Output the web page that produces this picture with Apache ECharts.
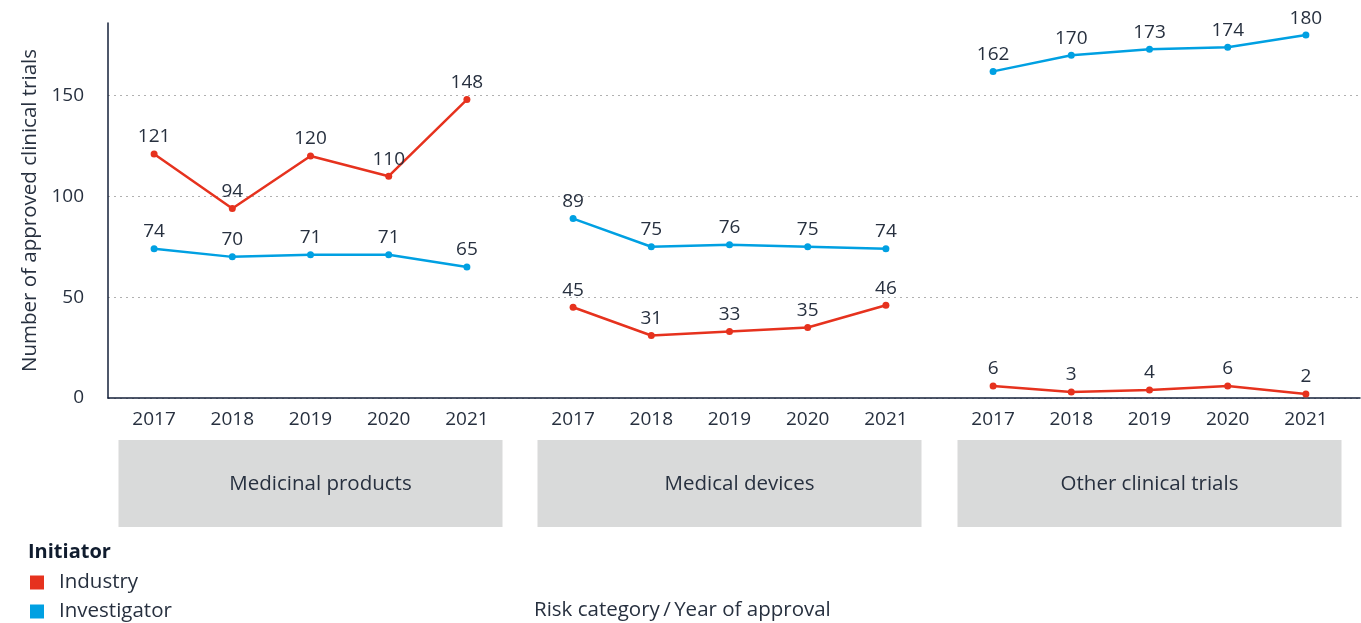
<!DOCTYPE html>
<html>
<head>
<meta charset="utf-8">
<script src="https://cdn.jsdelivr.net/npm/echarts@6/dist/echarts.min.js"></script>
<style>
  html, body { margin: 0; padding: 0; background: #fff; }
  #chart { width: 1361px; height: 623px; }
</style>
</head>
<body>
<div id="chart"></div>
<script>
// Approved clinical trials by risk category, year and initiator
const years = ['2017', '2018', '2019', '2020', '2021'];
const groups = ['Medicinal products', 'Medical devices', 'Other clinical trials'];
const industry = [
  [121, 94, 120, 110, 148],
  [45, 31, 33, 35, 46],
  [6, 3, 4, 6, 2]
];
const investigator = [
  [74, 70, 71, 71, 65],
  [89, 75, 76, 75, 74],
  [162, 170, 173, 174, 180]
];
const yTicks = [0, 50, 100, 150];
const seriesNames = ['Industry', 'Investigator'];

const RED = '#e6321e';
const BLUE = '#00a0e2';
const TEXT = '#27303f';
const FONT = '"Open Sans", "Noto Sans", sans-serif';
const FS = 19;      // numbers
const FT = 20.5;    // words

const TOP = 23, BOTTOM = 225, YMAX = 186;
const groupLeft = [115, 534, 954];
const groupWidth = 391;
// left inset of the caption inside each grey box
const boxInset = [20, 20, 0];

const grids = [{ left: 108, right: 1, top: TOP, bottom: BOTTOM }];
const xAxes = [{
  gridIndex: 0, type: 'value', min: 0, max: 1,
  axisLine: { show: true, lineStyle: { color: '#15213a', width: 1.5 } },
  axisTick: { show: false }, axisLabel: { show: false }, splitLine: { show: false }
}];
const yAxes = [{
  gridIndex: 0, type: 'value', min: 0, max: YMAX, interval: 50,
  name: 'Number of approved clinical trials',
  nameLocation: 'middle', nameGap: 65, nameRotate: 90,
  nameTextStyle: { color: TEXT, fontSize: FT, fontFamily: FONT },
  axisLine: { show: true, lineStyle: { color: '#15213a', width: 1.5 } },
  axisTick: { show: false },
  axisLabel: {
    color: TEXT, fontSize: FS, fontFamily: FONT, margin: 24,
    formatter: v => (yTicks.indexOf(v) >= 0 ? String(v) : '')
  },
  splitLine: {
    show: true,
    lineStyle: { type: [2, 4], width: 1, color: ['#b0b0b0', '#b0b0b0', '#b0b0b0', '#b0b0b0', 'rgba(0,0,0,0)'] }
  }
}];
const series = [];

groups.forEach((g, i) => {
  const gi = i + 1;
  grids.push({ left: groupLeft[i], width: groupWidth, top: TOP, bottom: BOTTOM });
  // year labels
  xAxes.push({
    gridIndex: gi, type: 'category', data: years, boundaryGap: true,
    axisLine: { show: false }, axisTick: { show: false },
    axisLabel: { color: TEXT, fontSize: FS, fontFamily: FONT, margin: 12 }
  });
  // grey category box under the years
  xAxes.push({
    gridIndex: gi, type: 'category', data: [g], position: 'bottom',
    axisLine: { show: false }, axisTick: { show: false },
    axisLabel: {
      color: TEXT, fontSize: FT, fontFamily: FONT, margin: 42,
      backgroundColor: '#d9dada', width: 384 - boxInset[i], height: 87, lineHeight: 89,
      padding: [0, 0, 0, boxInset[i]], align: 'center'
    }
  });
  yAxes.push({ gridIndex: gi, type: 'value', min: 0, max: YMAX, show: false, splitLine: { show: false } });
  const xIdx = xAxes.length - 2;
  const yIdx = yAxes.length - 1;
  [[industry[i], RED, seriesNames[0]], [investigator[i], BLUE, seriesNames[1]]].forEach(([vals, color, name]) => {
    series.push({
      type: 'line', name, data: vals, xAxisIndex: xIdx, yAxisIndex: yIdx,
      symbol: 'circle', symbolSize: 7,
      lineStyle: { color, width: 2.5 }, itemStyle: { color },
      label: { show: true, position: 'top', distance: 4, color: TEXT, fontSize: FS, fontFamily: FONT },
      emphasis: { disabled: true }, animation: false
    });
  });
});

const legendBase = {
  orient: 'vertical', left: 25, itemWidth: 14, itemHeight: 14,
  textStyle: { color: TEXT, fontSize: FT, fontFamily: FONT, padding: [0, 0, 0, 10] },
  selectedMode: false
};

const chart = echarts.init(document.getElementById('chart'), null, { renderer: 'canvas' });
chart.setOption({
  animation: false,
  textStyle: { fontFamily: FONT },
  title: [
    { text: 'Initiator', left: 23, top: 537, textStyle: { color: '#101c2e', fontSize: 20, fontWeight: 'bold', fontFamily: FONT } },
    { text: 'Risk category\u2009/\u2009Year of approval', left: 529, top: 595, textStyle: { color: TEXT, fontSize: FT, fontWeight: 'normal', fontFamily: FONT } }
  ],
  legend: seriesNames.map((n, k) => Object.assign({}, legendBase, {
    top: 567 + k * 29,
    data: [{ name: n, icon: 'rect' }]
  })),
  grid: grids,
  xAxis: xAxes,
  yAxis: yAxes,
  series
});
</script>
</body>
</html>
